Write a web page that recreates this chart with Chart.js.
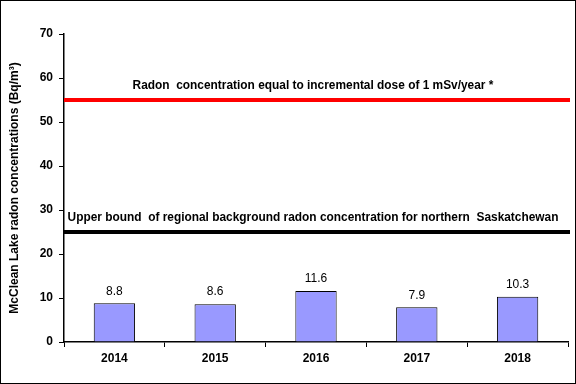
<!DOCTYPE html>
<html>
<head>
<meta charset="utf-8">
<script src="https://cdn.jsdelivr.net/npm/chart.js@4.4.0/dist/chart.umd.min.js"></script>
<style>
	html, body { margin: 0; padding: 0; background: #fff; }
	#wrap { width: 576px; height: 384px; }
</style>
</head>
<body>
<div id="wrap"><canvas id="radonChart" width="576" height="384"></canvas></div>
<script>
'use strict';
// *** Data ***
const aryYears = ['2014', '2015', '2016', '2017', '2018'];
const aryRadon = [8.8, 8.6, 11.6, 7.9, 10.3];
const aryRefValues = [55, 25];
const aryRefLabels = [
	'Radon  concentration equal to incremental dose of 1 mSv/year *',
	'Upper bound  of regional background radon concentration for northern  Saskatchewan'
];
const aryRefColors = ['rgb(255, 0, 0)', 'rgb(0, 0, 0)'];

// *** Plugins ***
const refLinePlugin = {
	id: 'refLines',
	afterDatasetsDraw(chart) {
		const ctx = chart.ctx;
		const yScale = chart.scales.y;
		const area = chart.chartArea;
		ctx.save();
		aryRefValues.forEach((val, i) => {
			const y = yScale.getPixelForValue(val);
			ctx.strokeStyle = aryRefColors[i];
			ctx.lineWidth = 4;
			ctx.beginPath();
			ctx.moveTo(area.left, y);
			ctx.lineTo(area.right + 2, y);
			ctx.stroke();
			ctx.fillStyle = '#000';
			ctx.font = 'bold 11.9px "Liberation Sans", Arial, sans-serif';
			ctx.textAlign = 'center';
			ctx.textBaseline = 'middle';
			ctx.fillText(aryRefLabels[i], (area.left + area.right) / 2 - 3, y - 14);
		});
		ctx.restore();
	}
};

const barLabelPlugin = {
	id: 'barLabels',
	afterDatasetsDraw(chart) {
		const ctx = chart.ctx;
		const meta = chart.getDatasetMeta(0);
		ctx.save();
		ctx.fillStyle = '#000';
		ctx.font = '12px "Liberation Sans", Arial, sans-serif';
		ctx.textAlign = 'center';
		ctx.textBaseline = 'middle';
		meta.data.forEach((bar, i) => {
			ctx.fillText(aryRadon[i].toString(), bar.x, bar.y - 12);
		});
		ctx.restore();
	}
};

const frameBorderPlugin = {
	id: 'frameBorder',
	afterDraw(chart) {
		const ctx = chart.ctx;
		ctx.save();
		ctx.strokeStyle = '#000';
		ctx.lineWidth = 1;
		ctx.strokeRect(0.5, 0.5, chart.width - 1, chart.height - 1);
		ctx.restore();
	}
};

// *** Chart ***
const radonChart = new Chart(document.getElementById('radonChart'), {
	type: 'bar',
	data: {
		labels: aryYears,
		datasets: [{
			data: aryRadon,
			backgroundColor: 'rgb(153, 153, 255)',
			borderColor: '#000',
			borderWidth: 1,
			barPercentage: 0.41,
			categoryPercentage: 1.0,
		}],
	},
	options: {
		responsive: false,
		animation: false,
		layout: { padding: { top: 34, right: 8, left: 0, bottom: 0 } },
		plugins: {
			legend: { display: false },
			tooltip: { enabled: false },
		},
		scales: {
			x: {
				offset: true,
				grid: {
					offset: true,
					drawOnChartArea: false,
					color: '#000',
					tickLength: 5,
				},
				border: { color: '#000', width: 1.5 },
				ticks: {
					color: '#000',
					font: { family: '"Liberation Sans", Arial, sans-serif', size: 12, weight: 'bold' },
					padding: 4,
				},
				afterFit(scale) { scale.height = 42; },
			},
			y: {
				min: 0,
				max: 70,
				ticks: {
					stepSize: 10,
					color: '#000',
					font: { family: '"Liberation Sans", Arial, sans-serif', size: 12, weight: 'bold' },
					padding: 6,
				},
				grid: {
					drawOnChartArea: false,
					color: '#000',
					tickLength: 5,
				},
				border: { color: '#000', width: 1.5 },
				title: {
					display: true,
					text: 'McClean Lake radon concentrations (Bq/m\u00b3)',
					color: '#000',
					font: { family: '"Liberation Sans", Arial, sans-serif', size: 12, weight: 'bold' },
					padding: { top: 7, bottom: 0 },
				},
				afterFit(scale) { scale.width = 64; },
			},
		},
	},
	plugins: [refLinePlugin, barLabelPlugin, frameBorderPlugin],
});
</script>
</body>
</html>
